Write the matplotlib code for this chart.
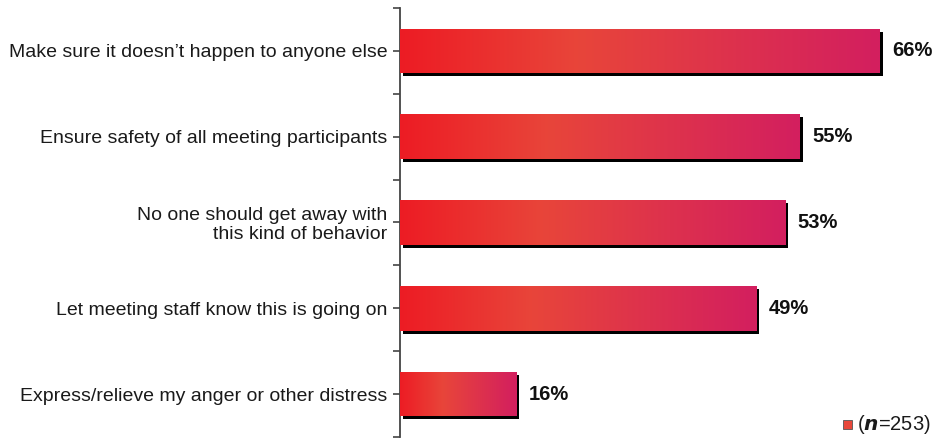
#!/usr/bin/env python3
"""
Reasons for reporting: horizontal gradient bars with drop shadows
"""

import numpy as np
import matplotlib.pyplot as plt
import matplotlib.patheffects as pe
from matplotlib.colors import LinearSegmentedColormap

plt.rcParams['font.family'] = ['Liberation Sans', 'DejaVu Sans']
plt.rcParams['font.size'] = 14

reasons = [
    "Make sure it doesn\u2019t happen to anyone else",
    "Ensure safety of all meeting participants",
    "No one should get away with\nthis kind of behavior",
    "Let meeting staff know this is going on",
    "Express/relieve my anger or other distress",
]
shares = [66, 55, 53, 49, 16]
sample_size = 253

bar_cmap = LinearSegmentedColormap.from_list(
    'bar_grad', [(0.0, '#ED1C24'), (0.37, '#E8453A'), (1.0, '#D31F5F')])


def create_figure():
    fig = plt.figure(figsize=(9.43, 4.4), dpi=100)
    ax = fig.add_axes([400 / 943, 3 / 440, 543 / 943, 429 / 440])

    y = np.arange(len(reasons))
    height = 0.52
    gradient = np.linspace(0, 1, 256).reshape(1, -1)

    bars = ax.barh(y, shares, height=height, color='black', zorder=2,
                   path_effects=[pe.SimplePatchShadow(offset=(2.2, -2.2),
                                                      shadow_rgbFace='black',
                                                      alpha=1.0),
                                 pe.Normal()])
    for bar, val, yi in zip(bars, shares, y):
        im = ax.imshow(gradient, cmap=bar_cmap, aspect='auto',
                       extent=[0, val, yi + height / 2, yi - height / 2],
                       zorder=3, interpolation='bilinear')
        im.set_clip_path(bar)
        ax.annotate(f'{val}%', xy=(val, yi), xytext=(9, 0),
                    textcoords='offset points', va='center', ha='left',
                    fontweight='bold', fontsize=14.5, color='#111111')

    ax.set_xlim(0, 74.7)
    ax.set_ylim(len(reasons) - 0.5, -0.5)

    ax.set_yticks(y)
    ax.set_yticklabels(reasons, ha='right', fontsize=14, color='#1a1a1a',
                       linespacing=1.1)
    ax.set_yticks(np.arange(len(reasons) + 1) - 0.5, minor=True)
    ax.tick_params(axis='y', which='both', length=5, width=1.2,
                   color='#444444', pad=4)
    ax.tick_params(axis='x', which='both', bottom=False, labelbottom=False)

    for side in ('top', 'right', 'bottom'):
        ax.spines[side].set_visible(False)
    ax.spines['left'].set_color('#444444')
    ax.spines['left'].set_linewidth(1.3)

    # sample size key, bottom right
    fig.patches.append(plt.Rectangle((843 / 943, 1 - 429 / 440), 9 / 943, 9 / 440,
                                     transform=fig.transFigure,
                                     facecolor='#E8473A', edgecolor='#555555',
                                     linewidth=0.6))
    fig.text(857 / 943, 1 - 424 / 440, f'($\\mathbfit{{n}}$={sample_size})',
             va='center', ha='left', fontsize=14.5, color='#1a1a1a')
    return fig


def main():
    fig = create_figure()
    fig.savefig('out.png', dpi=100)


if __name__ == '__main__':
    main()
